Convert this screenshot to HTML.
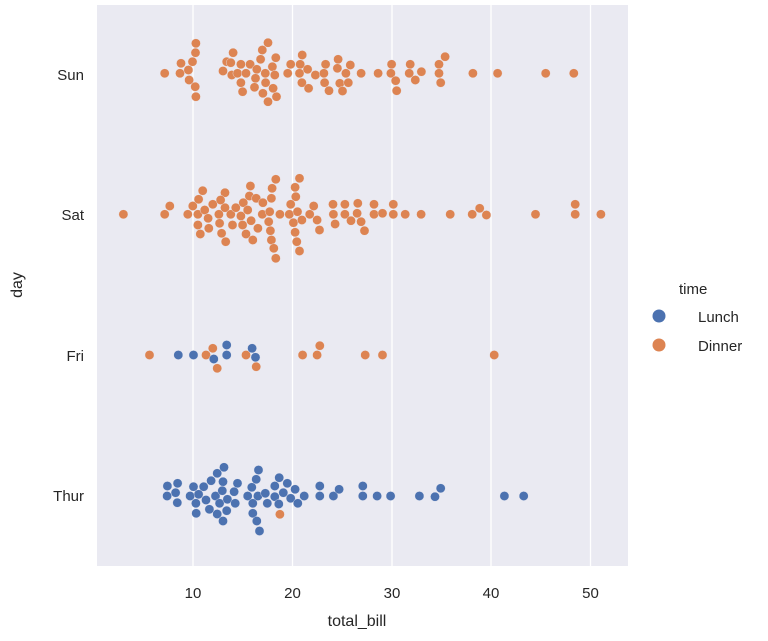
<!DOCTYPE html>
<html><head><meta charset="utf-8"><style>
html,body{margin:0;padding:0;background:#fff;}
svg{display:block;font-family:"Liberation Sans",Arial,sans-serif;}
</style></head><body>
<svg id="s" width="768" height="641" viewBox="0 0 768 641">
<rect x="97" y="5" width="531" height="561" fill="#eaeaf2"/>
<g stroke="#fff" stroke-width="1.3">
<line x1="193" y1="5" x2="193" y2="566"/>
<line x1="292.5" y1="5" x2="292.5" y2="566"/>
<line x1="392" y1="5" x2="392" y2="566"/>
<line x1="491" y1="5" x2="491" y2="566"/>
<line x1="590.5" y1="5" x2="590.5" y2="566"/>
</g>
<g id="pts"></g>
<g font-size="15" fill="#262626">
<text x="193" y="598" text-anchor="middle">10</text>
<text x="292.5" y="598" text-anchor="middle">20</text>
<text x="392" y="598" text-anchor="middle">30</text>
<text x="491" y="598" text-anchor="middle">40</text>
<text x="590.5" y="598" text-anchor="middle">50</text>
<text x="84" y="80" text-anchor="end">Sun</text>
<text x="84" y="220" text-anchor="end">Sat</text>
<text x="84" y="361" text-anchor="end">Fri</text>
<text x="84" y="501" text-anchor="end">Thur</text>
<text x="357" y="626" text-anchor="middle" font-size="16">total_bill</text>
<text transform="translate(22,285) rotate(-90)" text-anchor="middle" font-size="16">day</text>
<text x="679" y="294" font-size="15">time</text>
<circle cx="659" cy="316" r="6.5" fill="#4c72b0"/>
<text x="698" y="322">Lunch</text>
<circle cx="659" cy="345" r="6.5" fill="#dd8452"/>
<text x="698" y="351">Dinner</text>
</g>
</svg>
<script>
var B="#4c72b0",O="#dd8452";
var sun=[200,130,245,130,270,120,272,150,282,95,291,68,292,40,290,170,292,200,248,100,383,95,372,123,398,135,402,68,395,98,425,103,415,130,425,158,430,185,452,103,440,130,472,118,468,145,465,172,490,190,505,215,497,130,498,158,520,175,530,200,518,110,528,83,525,135,488,60,505,38,483,88,563,130,572,103,600,103,598,130,606,75,605,158,625,175,622,118,645,135,672,158,670,130,675,103,685,182,712,88,710,115,717,160,725,183,735,130,742,158,748,105,780,130,830,130,870,103,868,130,882,152,885,182,925,103,922,130,940,150,958,125,1010,103,1010,130,1015,158,1028,80,1110,130,1183,130,1325,130,1408,130];
var sat=[78,133,200,133,215,108,268,133,283,108,300,88,312,62,298,133,318,120,328,145,298,165,305,192,330,175,342,103,360,133,378,113,362,160,368,190,380,215,378,68,365,90,395,133,400,165,410,113,425,138,432,98,430,165,440,192,445,120,450,78,453,48,455,152,460,210,470,85,475,175,488,133,490,98,510,125,515,85,517,55,528,28,507,155,512,182,515,210,522,235,528,265,540,133,568,133,572,103,585,52,587,80,598,25,580,158,585,187,590,215,598,243,592,125,605,150,628,133,640,108,650,150,657,180,697,103,698,133,703,162,732,103,732,133,750,152,770,100,768,130,780,155,790,182,818,103,818,133,843,130,875,103,875,133,910,133,957,133,1043,133,1108,133,1130,115,1150,135,1295,133,1412,103,1412,133,1488,133];
var thu=[208,108,207,138,232,128,238,100,237,158,275,138,285,110,300,133,292,160,293,190,315,110,322,150,332,178,337,92,350,138,355,70,375,52,372,95,370,122,362,160,385,148,383,182,355,192,372,213,405,125,408,160,415,100,445,138,457,112,470,88,477,60,460,160,460,190,472,213,480,243,475,138,497,130,503,160,525,108,525,140,538,83,537,162,550,128,562,100,572,145,585,118,593,160,612,138,658,108,658,138,698,138,715,118,785,108,785,138,827,138,867,138,952,138,998,140,1015,115,1203,138,1260,138];
var friO=[155,105,322,105,342,85,355,145,440,105,470,140,607,105,650,105,658,77,792,105,843,105,1173,105];
var friB=[240,105,285,105,383,75,383,105,345,117,458,85,468,112];
var g=document.getElementById("pts"),h="";
function add(a,oy,c){for(var i=0;i<a.length;i+=2){h+='<circle cx="'+(97+a[i]/2.953).toFixed(1)+'" cy="'+(oy+a[i+1]/3).toFixed(1)+'" r="4.6" fill="'+c+'" stroke="#eaeaf2" stroke-width="0.4"/>';}}
add(sun,30,O);add(sat,170,O);add(thu,450,B);add([540,193],450,O);add(friO,320,O);add(friB,320,B);
g.innerHTML=h;
</script>
</body></html>
